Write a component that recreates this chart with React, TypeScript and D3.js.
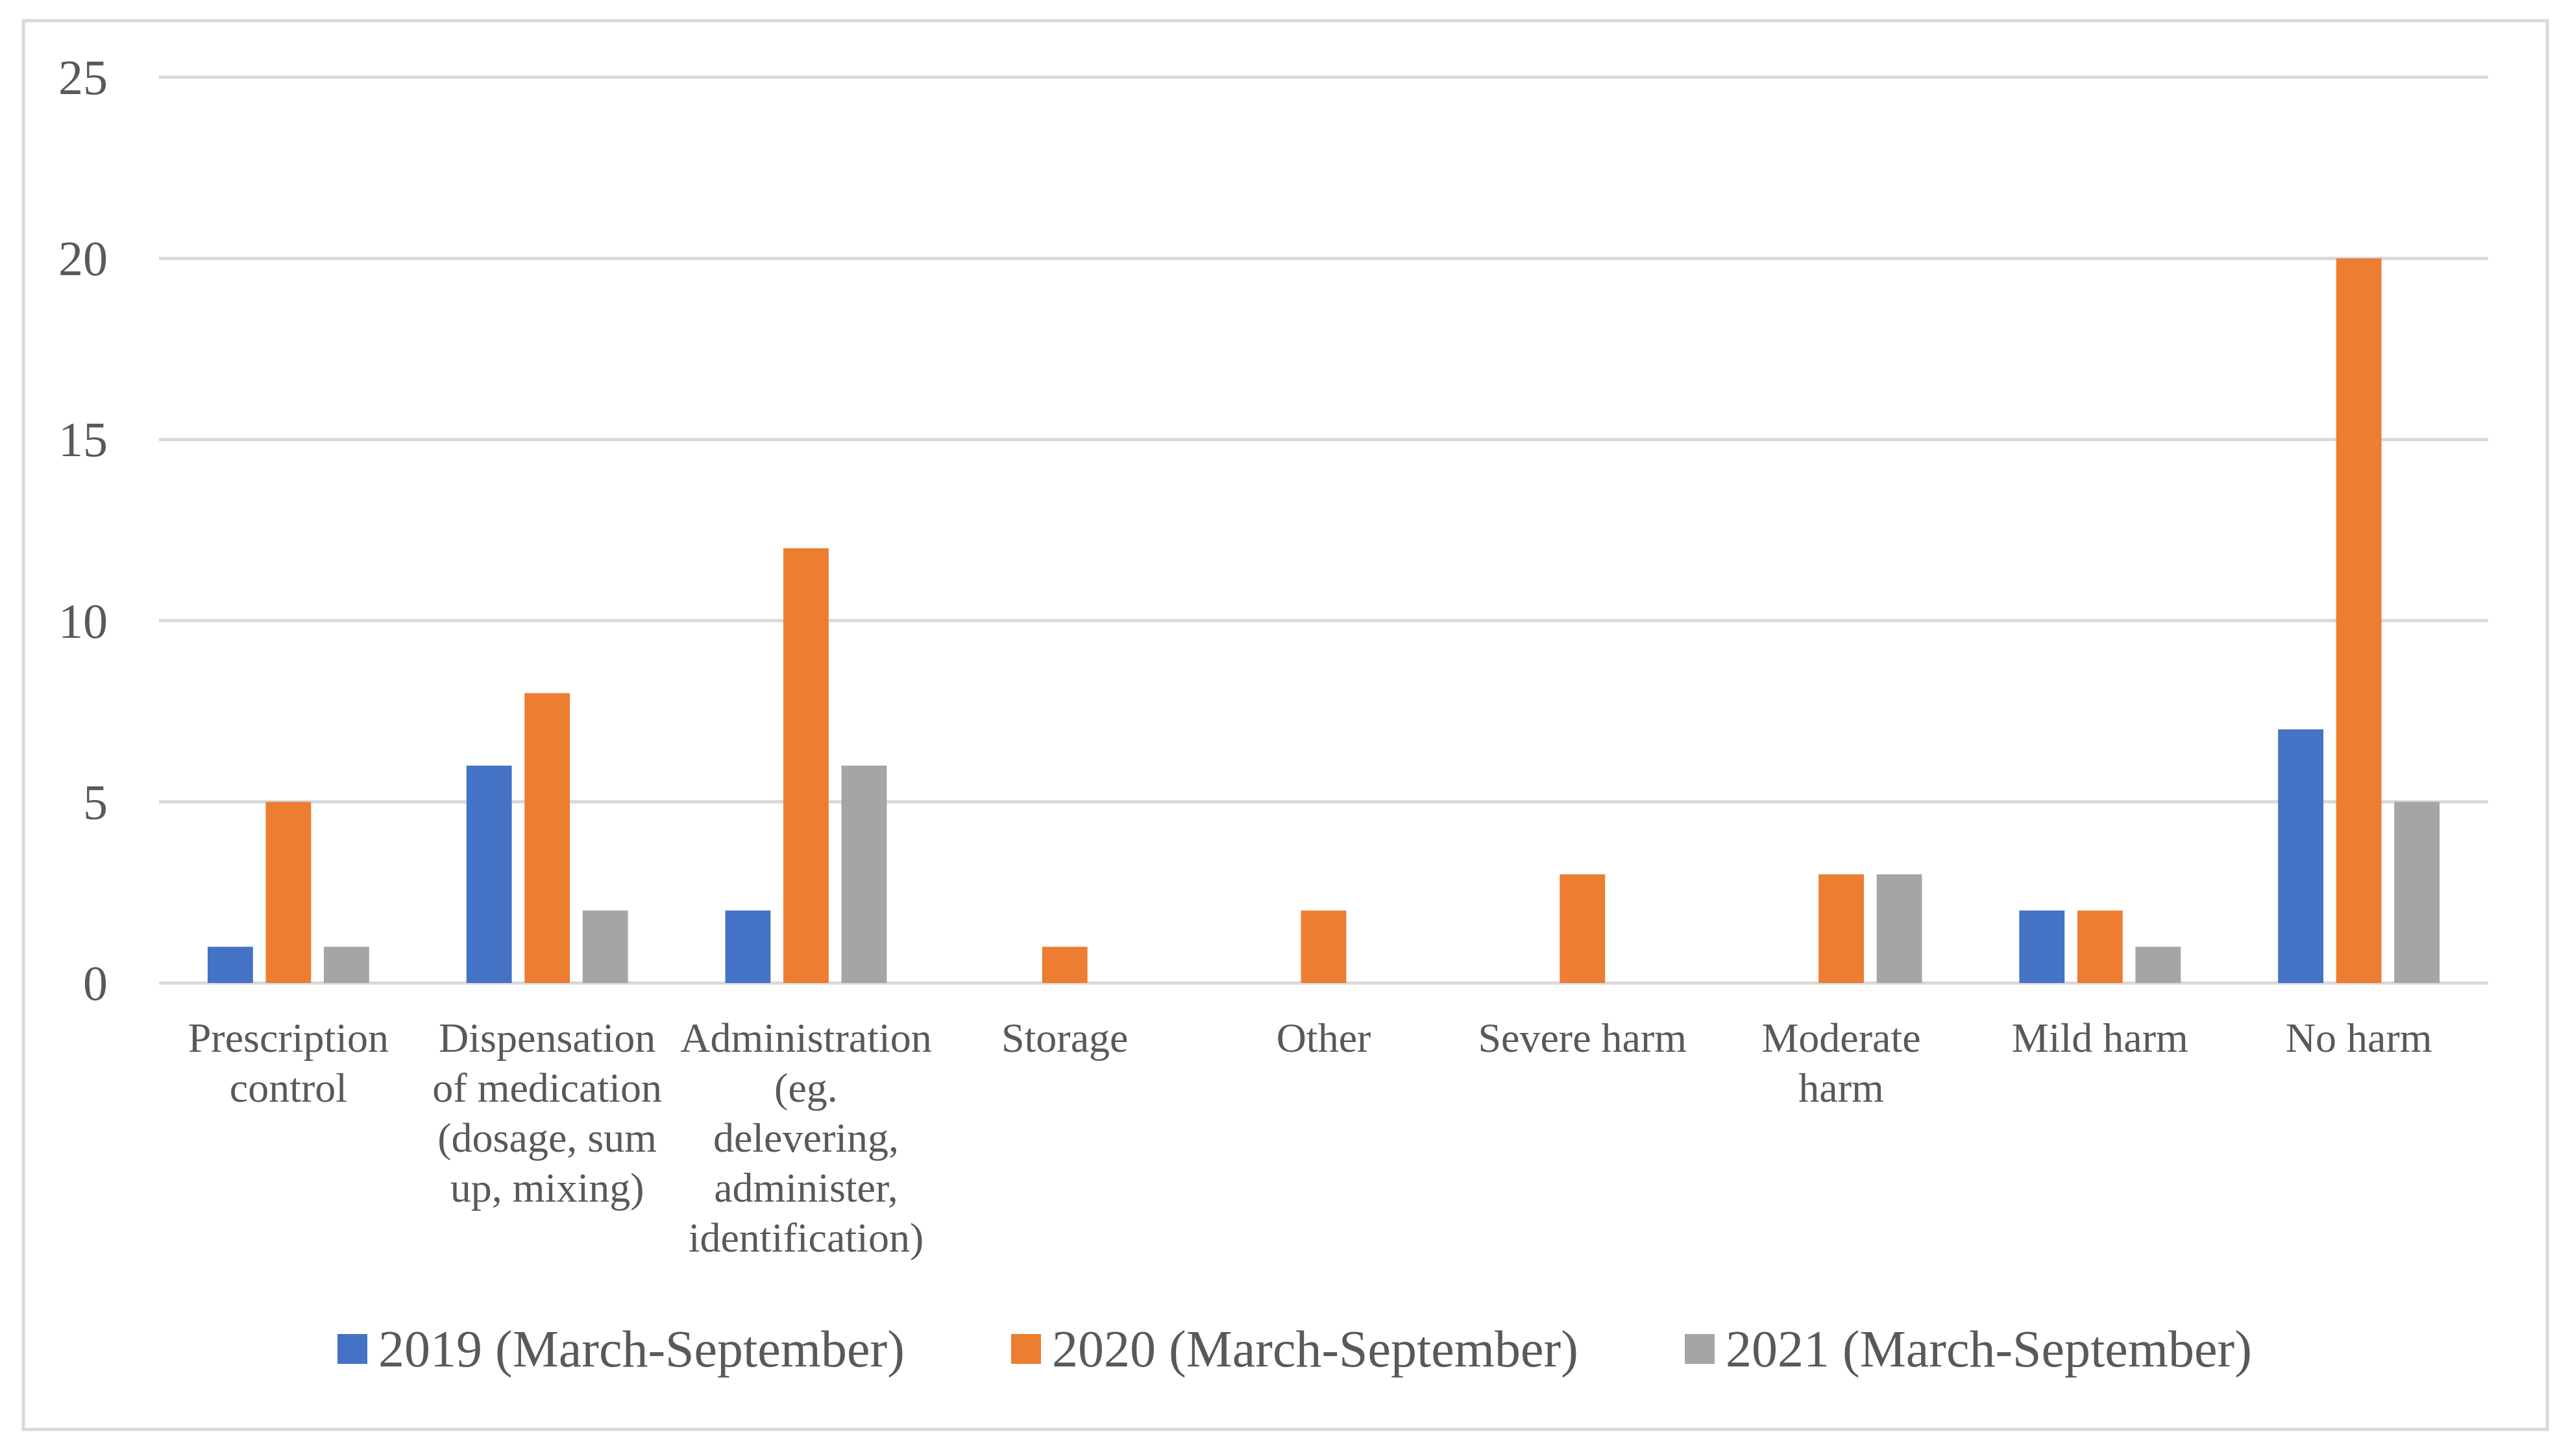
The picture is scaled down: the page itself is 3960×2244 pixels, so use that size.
import React from "react";
import * as d3 from "d3";

const categories: string[][] = [
  ["Prescription", "control"],
  ["Dispensation", "of medication", "(dosage, sum", "up, mixing)"],
  ["Administration", "(eg.", "delevering,", "administer,", "identification)"],
  ["Storage"],
  ["Other"],
  ["Severe harm"],
  ["Moderate", "harm"],
  ["Mild harm"],
  ["No harm"],
];
const seriesNames = ["2019 (March-September)", "2020 (March-September)", "2021 (March-September)"];
const values2019 = [1, 6, 2, 0, 0, 0, 0, 2, 7];
const values2020 = [5, 8, 12, 1, 2, 3, 3, 2, 20];
const values2021 = [1, 2, 6, 0, 0, 0, 3, 1, 5];
const seriesColors = ["#4472C4", "#ED7D31", "#A5A5A5"];
const yTicks = [0, 5, 10, 15, 20, 25];

const W = 3960;
const H = 2244;
const FONT = "'Liberation Serif', 'Times New Roman', serif";
const TEXT = "#595959";
const GRID = "#D9D9D9";

export default function App() {
  const series = [values2019, values2020, values2021];
  const plotLeft = 245;
  const plotRight = 3834;
  const plotTop = 119;
  const plotBottom = 1515;

  const y = d3.scaleLinear().domain([0, 25]).range([plotBottom, plotTop]);
  const x0 = d3
    .scaleBand<number>()
    .domain(d3.range(categories.length))
    .range([plotLeft, plotRight])
    .paddingInner(0.376)
    .paddingOuter(0.188);
  const x1 = d3
    .scaleBand<number>()
    .domain(d3.range(series.length))
    .range([0, x0.bandwidth()])
    .paddingInner(0.22);

  const legendX = [520, 1558, 2596];
  const legendY = 2079;

  return (
    <svg
      width={W}
      height={H}
      style={{ position: "absolute", left: 0, top: 0, background: "#fff" }}
    >
      <rect x={0} y={0} width={W} height={H} fill="#fff" />
      <rect x={36} y={32} width={3889} height={2171} fill="#fff" stroke={GRID} strokeWidth={5} />
      {yTicks.map((t) => (
        <g key={t}>
          <line x1={plotLeft} x2={plotRight} y1={y(t)} y2={y(t)} stroke={GRID} strokeWidth={5} />
          <text
            x={166}
            y={y(t)}
            textAnchor="end"
            dominantBaseline="central"
            fontFamily={FONT}
            fontSize={76}
            fill={TEXT}
          >
            {t}
          </text>
        </g>
      ))}
      {series.map((vals, s) =>
        vals.map((v, i) =>
          v > 0 ? (
            <rect
              key={`${s}-${i}`}
              x={(x0(i) as number) + (x1(s) as number)}
              y={y(v)}
              width={x1.bandwidth()}
              height={y(0) - y(v)}
              fill={seriesColors[s]}
            />
          ) : null
        )
      )}
      {categories.map((lines, i) => (
        <text
          key={i}
          x={(x0(i) as number) + x0.bandwidth() / 2}
          y={1621}
          textAnchor="middle"
          fontFamily={FONT}
          fontSize={64}
          fill={TEXT}
        >
          {lines.map((l, k) => (
            <tspan key={k} x={(x0(i) as number) + x0.bandwidth() / 2} dy={k === 0 ? 0 : 77}>
              {l}
            </tspan>
          ))}
        </text>
      ))}
      {seriesNames.map((name, s) => (
        <g key={name}>
          <rect x={legendX[s]} y={legendY - 23} width={46} height={46} fill={seriesColors[s]} />
          <text
            x={legendX[s] + 63}
            y={legendY}
            dominantBaseline="central"
            fontFamily={FONT}
            fontSize={80}
            fill={TEXT}
          >
            {name}
          </text>
        </g>
      ))}
    </svg>
  );
}
